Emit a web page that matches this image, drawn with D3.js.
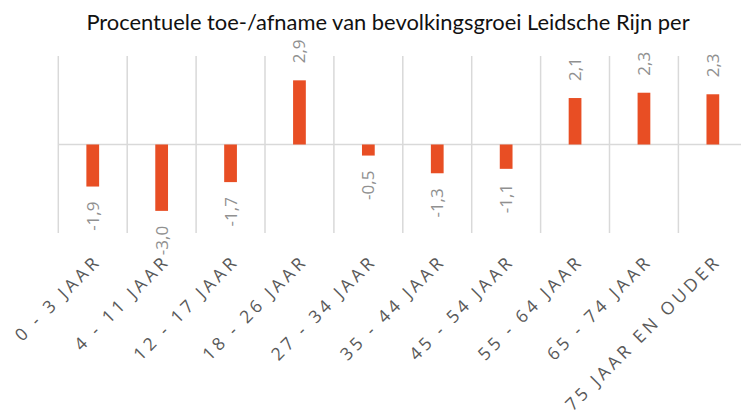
<!DOCTYPE html>
<html>
<head>
<meta charset="utf-8">
<script src="https://cdn.jsdelivr.net/npm/d3@7"></script>
<style>
    body { margin: 0; background: #fff; }
    .title { font-family: Lato, "Open Sans", sans-serif; font-size: 21.9px; fill: #111; }
    .gridLine { stroke: #d9d9d9; stroke-width: 1.5px; }
    .bar { fill: #e84e24; }
    .valueLabel { font-family: "Open Sans", sans-serif; font-size: 17px; fill: #909090; }
    .catLabel { font-family: "Open Sans", sans-serif; font-size: 17.5px; fill: #595959; letter-spacing: 3.6px; }
</style>
</head>
<body>
<div id="chart"></div>
<script>
// Percentage change per age group
var categories = [
    "0 - 3 JAAR",
    "4 - 11 JAAR",
    "12 - 17 JAAR",
    "18 - 26 JAAR",
    "27 - 34 JAAR",
    "35 - 44 JAAR",
    "45 - 54 JAAR",
    "55 - 64 JAAR",
    "65 - 74 JAAR",
    "75 JAAR EN OUDER"
];
var values = [-1.9, -3.0, -1.7, 2.9, -0.5, -1.3, -1.1, 2.1, 2.34, 2.27];
var titleText = "Procentuele toe-/afname van bevolkingsgroei Leidsche Rijn per";

var width = 741, height = 414;

var svg = d3.select("#chart")
    .append("svg")
    .attr("width", width)
    .attr("height", height);

// Scales
var x = d3.scaleBand()
    .domain(categories)
    .range([58.3, 747.3]);

var y = d3.scaleLinear()
    .domain([-4, 4])
    .range([233, 56]);

var barWidth = x.bandwidth() * 0.185;
// Dutch decimal comma, plain hyphen for minus
var fmt = function(v) { return d3.format(".1f")(v).replace("\u2212", "-").replace(".", ","); };

// Title
svg.append("text")
    .attr("class", "title")
    .attr("x", 388)
    .attr("y", 30)
    .attr("text-anchor", "middle")
    .text(titleText);

// Vertical gridlines at category edges
var edges = categories.map(function(c) { return x(c); }).concat([x.range()[1]]);
svg.selectAll(".vGrid")
    .data(edges)
    .enter()
    .append("line")
    .attr("class", "gridLine")
    .attr("x1", function(d) { return d; })
    .attr("x2", function(d) { return d; })
    .attr("y1", y(4))
    .attr("y2", y(-4));

// Zero line
svg.append("line")
    .attr("class", "gridLine")
    .attr("x1", x.range()[0])
    .attr("x2", x.range()[1])
    .attr("y1", y(0))
    .attr("y2", y(0));

// Bars
svg.selectAll(".bar")
    .data(values)
    .enter()
    .append("rect")
    .attr("class", "bar")
    .attr("x", function(d, i) { return x(categories[i]) + x.bandwidth() / 2 - barWidth / 2; })
    .attr("y", function(d) { return y(Math.max(0, d)); })
    .attr("width", barWidth)
    .attr("height", function(d) { return Math.abs(y(d) - y(0)); });

// Value labels, rotated
svg.selectAll(".valueLabel")
    .data(values)
    .enter()
    .append("text")
    .attr("class", "valueLabel")
    .attr("transform", function(d, i) {
        var cx = x(categories[i]) + x.bandwidth() / 2;
        var cy = d >= 0 ? y(d) - 17 : y(d) + 15;
        return "translate(" + cx + "," + cy + ") rotate(-90)";
    })
    .attr("text-anchor", function(d) { return d >= 0 ? "start" : "end"; })
    .attr("dy", "0.35em")
    .text(function(d) { return fmt(d); });

// Category labels, rotated 45 degrees
svg.selectAll(".catLabel")
    .data(categories)
    .enter()
    .append("text")
    .attr("class", "catLabel")
    .attr("transform", function(d) {
        var cx = x(d) + x.bandwidth() / 2;
        return "translate(" + (cx + 5) + "," + 258 + ") rotate(-45)";
    })
    .attr("text-anchor", "end")
    .attr("dy", "0.35em")
    .text(function(d) { return d; });
</script>
</body>
</html>
